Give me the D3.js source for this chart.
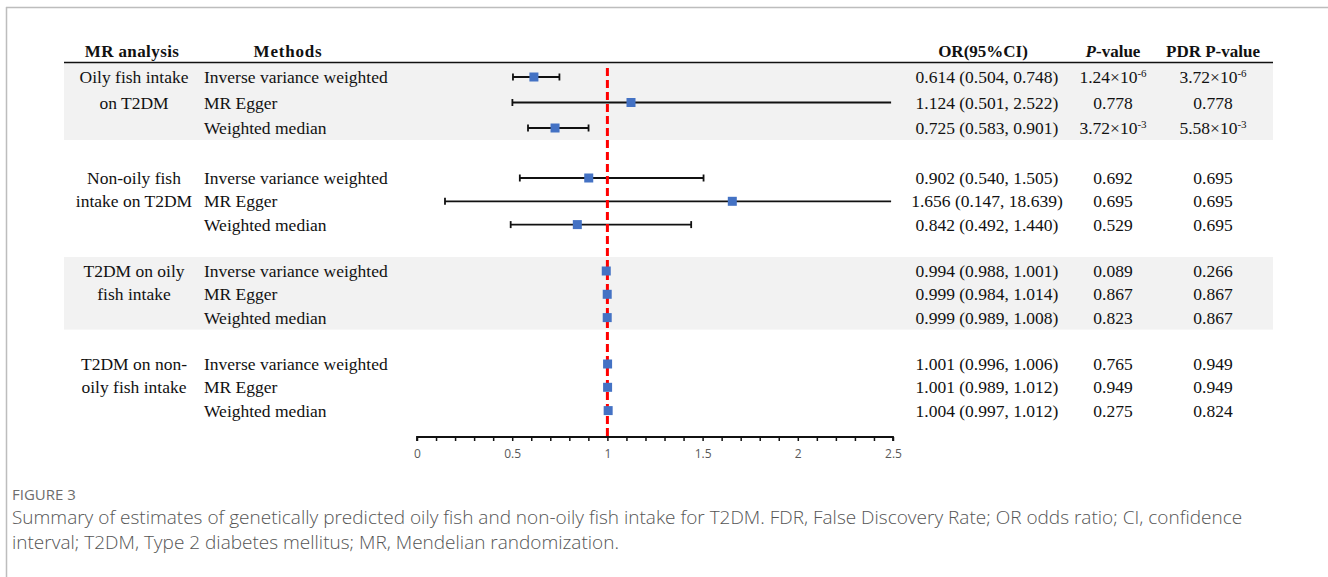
<!DOCTYPE html>
<html lang="en">
<head>
<meta charset="UTF-8">
<title>Forest plot</title>
<style>
body { margin: 0; background: #fff; }
.tbl { font-family: "Liberation Serif", "Times New Roman", serif; font-size: 17.5px; fill: #111; }
.hdr { font-weight: 700; font-size: 17px; }
.tick text { font-family: "Open Sans", "Liberation Sans", sans-serif; font-size: 12px; fill: #595959; }
.cap-title { font-family: "Open Sans", sans-serif; font-size: 15px; fill: #6d6d6d; }
.cap { font-family: "Open Sans", sans-serif; font-weight: 300; font-size: 19px; fill: #555; }
</style>
</head>
<body>
<script src="https://cdn.jsdelivr.net/npm/d3@7"></script>
<script>
// table columns
var groups = [
  ["Oily fish intake", "on T2DM"],
  ["Non-oily fish", "intake on T2DM"],
  ["T2DM on oily", "fish intake"],
  ["T2DM on non-", "oily fish intake"]
];
var methods = ["Inverse variance weighted", "MR Egger", "Weighted median"];

// estimates, one per row (4 groups x 3 methods)
var orValue = [0.614, 1.124, 0.725, 0.902, 1.656, 0.842, 0.994, 0.999, 0.999, 1.001, 1.001, 1.004];
var ciLow   = [0.504, 0.501, 0.583, 0.540, 0.147, 0.492, 0.988, 0.984, 0.989, 0.996, 0.989, 0.997];
var ciHigh  = [0.748, 2.522, 0.901, 1.505, 18.639, 1.440, 1.001, 1.014, 1.008, 1.006, 1.012, 1.012];
var pValue  = ["1.24^-6", "0.778", "3.72^-3", "0.692", "0.695", "0.529", "0.089", "0.867", "0.823", "0.765", "0.949", "0.275"];
var fdrValue = ["3.72^-6", "0.778", "5.58^-3", "0.695", "0.695", "0.695", "0.266", "0.867", "0.867", "0.949", "0.949", "0.824"];

var width = 1328, height = 577;

var svg = d3.select("body").append("svg")
    .attr("width", width)
    .attr("height", height);

// page frame (top + left rule)
svg.append("line").attr("x1", 6).attr("x2", width).attr("y1", 7.5).attr("y2", 7.5)
    .attr("stroke", "#bdbdbd").attr("stroke-width", 1.5);
svg.append("line").attr("x1", 6.5).attr("x2", 6.5).attr("y1", 7).attr("y2", height)
    .attr("stroke", "#bdbdbd").attr("stroke-width", 1.5);

var x = d3.scaleLinear().domain([0, 2.5]).range([417, 893]);

// row y positions: first block is a bit looser than the others
function rowY(g, r) {
  return g === 0 ? 77 + r * 25.5 : 178 + (g - 1) * 93 + r * 23.3;
}

var rows = [];
groups.forEach(function(gr, g) {
  methods.forEach(function(m, r) {
    var i = g * 3 + r;
    rows.push({g: g, r: r, method: m, or: orValue[i], lo: ciLow[i], hi: ciHigh[i],
               p: pValue[i], fdr: fdrValue[i], y: rowY(g, r)});
  });
});

var left = 64, right = 1273;

// shaded bands on groups 1 and 3
svg.append("g").selectAll("rect")
  .data([0, 2])
  .enter().append("rect")
    .attr("x", left)
    .attr("width", right - left)
    .attr("y", function(g) { return rowY(g, 0) - 14; })
    .attr("height", function(g) { return rowY(g, 2) - rowY(g, 0) + 26; })
    .attr("fill", "#f2f2f2");

// header
var hdr = svg.append("g").attr("class", "tbl hdr").attr("text-anchor", "middle");
hdr.append("text").attr("x", 132).attr("y", 57).attr("letter-spacing", "0.4px").text("MR analysis");
hdr.append("text").attr("x", 288).attr("y", 57).attr("letter-spacing", "0.8px").text("Methods");
hdr.append("text").attr("x", 983).attr("y", 57).text("OR(95%CI)");
var pv = hdr.append("text").attr("x", 1113).attr("y", 57);
pv.append("tspan").attr("font-style", "italic").text("P");
pv.append("tspan").text("-value");
hdr.append("text").attr("x", 1213).attr("y", 57).text("PDR P-value");

svg.append("line").attr("x1", left).attr("x2", right).attr("y1", 62.5).attr("y2", 62.5)
    .attr("stroke", "#111").attr("stroke-width", 1.3);

// group labels
var gl = svg.append("g").attr("class", "tbl").attr("text-anchor", "middle");
groups.forEach(function(lines, g) {
  var t = gl.append("text");
  lines.forEach(function(s, k) {
    t.append("tspan").attr("x", 134)
      .attr("y", rowY(g, k)).attr("dy", "0.35em").text(s);
  });
});

// table cells
var cells = svg.append("g").attr("class", "tbl");
cells.selectAll(".m").data(rows).enter().append("text")
    .attr("x", 204).attr("y", function(d) { return d.y; }).attr("dy", "0.35em")
    .text(function(d) { return d.method; });

var f3 = d3.format(".3f");
cells.selectAll(".or").data(rows).enter().append("text")
    .attr("x", 987).attr("text-anchor", "middle")
    .attr("y", function(d) { return d.y; }).attr("dy", "0.35em")
    .text(function(d) { return f3(d.or) + " (" + f3(d.lo) + ", " + f3(d.hi) + ")"; });

function pText(sel, key) {
  sel.each(function(d) {
    var t = d3.select(this);
    var parts = d[key].split("^");
    if (parts.length === 1) { t.text(parts[0]); return; }
    t.append("tspan").text(parts[0] + "\u00d710");
    t.append("tspan").attr("font-size", "11px").attr("dy", "-0.6em").text(parts[1]);
  });
}

cells.selectAll(".p").data(rows).enter().append("text")
    .attr("x", 1113).attr("text-anchor", "middle")
    .attr("y", function(d) { return d.y; }).attr("dy", "0.35em")
    .call(pText, "p");
cells.selectAll(".fdr").data(rows).enter().append("text")
    .attr("x", 1213).attr("text-anchor", "middle")
    .attr("y", function(d) { return d.y; }).attr("dy", "0.35em")
    .call(pText, "fdr");

// forest marks
var xmax = x.domain()[1];
var plot = svg.append("g");

plot.selectAll(".ci").data(rows).enter().append("line")
    .attr("x1", function(d) { return x(d.lo); })
    .attr("x2", function(d) { return x(Math.min(d.hi, xmax - 0.01)); })
    .attr("y1", function(d) { return d.y; })
    .attr("y2", function(d) { return d.y; })
    .attr("stroke", "#111").attr("stroke-width", 1.8);

var capped = [];
rows.forEach(function(d) {
  if (d.hi - d.lo > 0.05) {
    capped.push({v: d.lo, y: d.y});
    if (d.hi < xmax) capped.push({v: d.hi, y: d.y});
  }
});
plot.selectAll(".cap").data(capped).enter().append("line")
    .attr("x1", function(d) { return x(d.v); })
    .attr("x2", function(d) { return x(d.v); })
    .attr("y1", function(d) { return d.y - 3.5; })
    .attr("y2", function(d) { return d.y + 3.5; })
    .attr("stroke", "#111").attr("stroke-width", 1.8);

// reference line at OR = 1
plot.append("line")
    .attr("x1", x(1)).attr("x2", x(1))
    .attr("y1", 68).attr("y2", 436)
    .attr("stroke", "#ff0000").attr("stroke-width", 3)
    .attr("stroke-dasharray", "8,4");

plot.selectAll(".pt").data(rows).enter().append("rect")
    .attr("x", function(d) { return x(d.or) - 4.5; })
    .attr("y", function(d) { return d.y - 4.5; })
    .attr("width", 9).attr("height", 9)
    .attr("fill", "#4472c4");

// axis
var ax = svg.append("g").attr("transform", "translate(0,437)")
    .call(d3.axisBottom(x).tickValues(d3.range(0, 2.51, 0.1)).tickSize(4)
      .tickFormat(function(d) {
        var k = Math.round(d * 10);
        return k % 5 === 0 ? d3.format("")(k / 10) : "";
      }));
ax.select(".domain").attr("stroke", "#111").attr("stroke-width", 1.8).attr("d", "M" + x(0) + ",4V0H" + x(2.5) + "V4");
ax.selectAll(".tick line").attr("stroke", "#111").attr("stroke-width", 1.5);
ax.selectAll(".tick text").attr("dy", "0.5em").attr("y", 15);

// caption
svg.append("text").attr("class", "cap-title").attr("x", 12).attr("y", 500).text("FIGURE 3");
svg.append("text").attr("class", "cap").attr("x", 12).attr("y", 524)
    .text("Summary of estimates of genetically predicted oily fish and non-oily fish intake for T2DM. FDR, False Discovery Rate; OR odds ratio; CI, confidence");
svg.append("text").attr("class", "cap").attr("x", 12).attr("y", 549)
    .text("interval; T2DM, Type 2 diabetes mellitus; MR, Mendelian randomization.");
</script>
</body>
</html>
